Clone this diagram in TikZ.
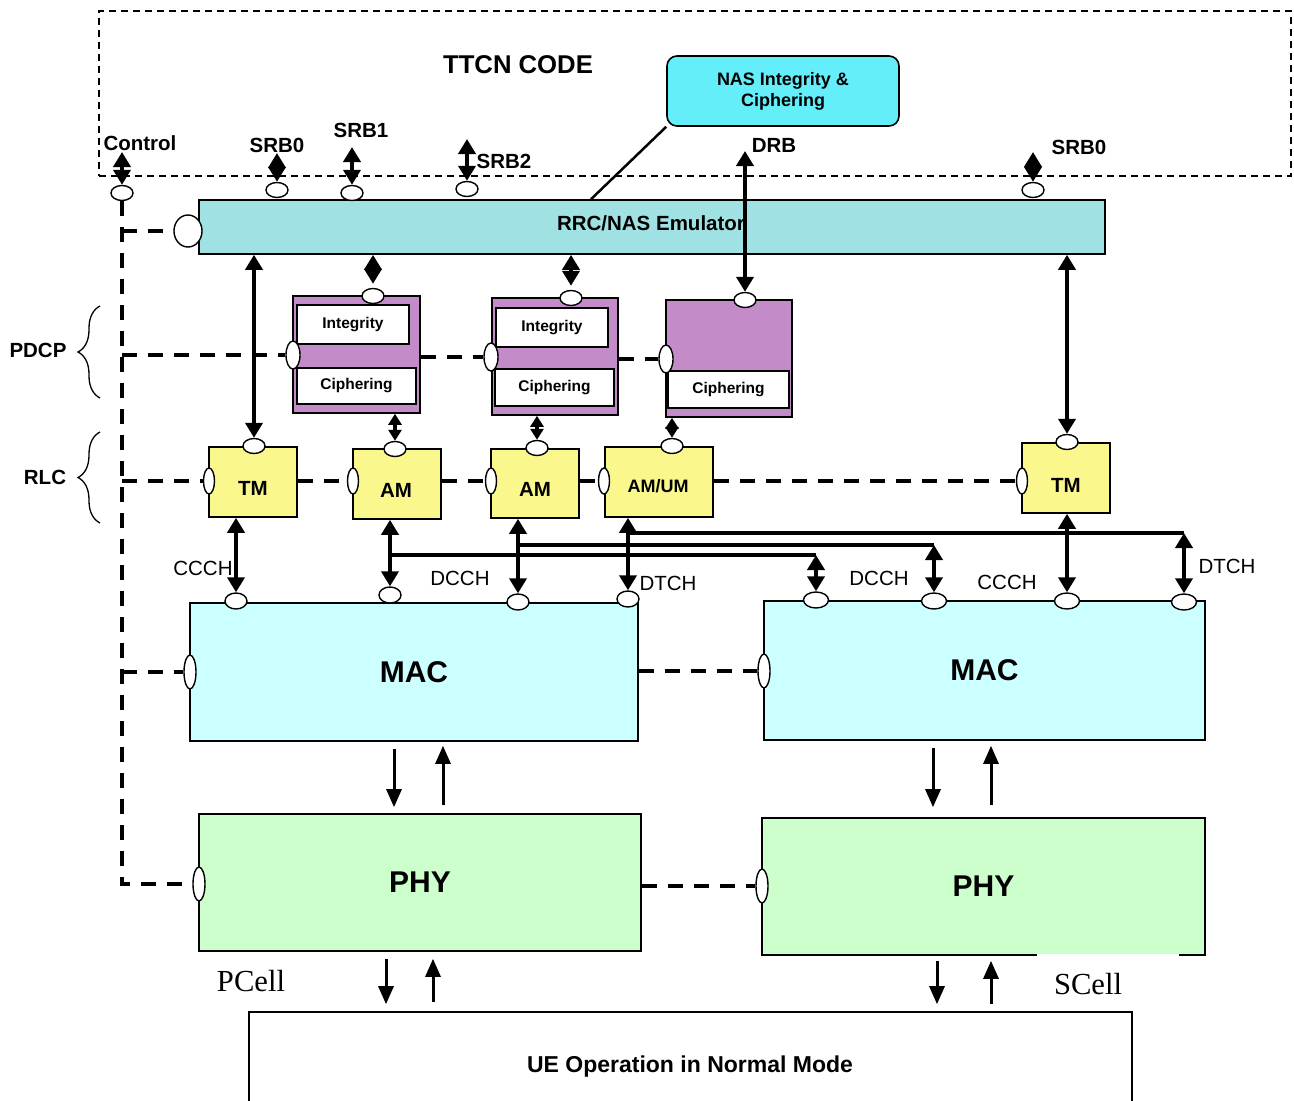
\documentclass[tikz,border=0pt]{standalone}
\usepackage{fontspec}
\setmainfont{Liberation Sans}
\newfontfamily\serifx{Liberation Serif}
\usetikzlibrary{arrows.meta,shapes.geometric,decorations.pathreplacing}
\newcommand\myfs[1]{\fontsize{#1}{#1}\selectfont}
\definecolor{nascol}{RGB}{100,238,250}
\definecolor{rrccol}{RGB}{160,225,228}
\definecolor{pdcpcol}{RGB}{195,140,200}
\definecolor{rlccol}{RGB}{250,248,140}
\definecolor{maccol}{RGB}{204,255,255}
\definecolor{phycol}{RGB}{204,255,204}
\begin{document}
\begin{tikzpicture}[x=1pt,y=-1pt,
 every node/.style={inner sep=0pt},
 box/.style={draw,line width=1.6pt},
 port/.style={ellipse,draw,fill=white,line width=1.4pt,minimum width=22pt,minimum height=15pt},
 vport/.style={ellipse,draw,fill=white,line width=1.4pt,minimum width=12pt,minimum height=28pt},
 lbl/.style={font=\myfs{20.5}\bfseries},
 chl/.style={font=\myfs{20.5}},
 dbl/.style={line width=3.8pt,{Triangle[width=17pt,length=15pt]}-{Triangle[width=17pt,length=15pt]}},
 dmd/.style={line width=3.8pt,{Triangle[width=17pt,length=15pt]}-{Triangle[width=17pt,length=15pt]}},
 sdbl/.style={line width=3.5pt,{Triangle[width=13pt,length=11pt]}-{Triangle[width=13pt,length=11pt]}},
 sarr/.style={line width=3pt,-{Triangle[width=15pt,length=18pt]}},
 busl/.style={line width=3.8pt,dash pattern=on 15pt off 11pt},
 wire/.style={line width=3.5pt},
 brc/.style={line width=1.3pt,decorate,decoration={brace,amplitude=22pt}}
]
\useasboundingbox (0,0) rectangle (1294,1101);
\fill[white] (0,0) rectangle (1294,1101);
\clip (0,0) rectangle (1294,1101);

% TTCN area
\node[draw,line width=1.2pt,dash pattern=on 7pt off 5pt,minimum width=1192pt,minimum height=165pt] (ttcn) at (695,93.5) {};
\node[font=\myfs{25.7}\bfseries] (ttcnlbl) at (518,65) {TTCN CODE};
\node[box,fill=nascol,rounded corners=10pt,minimum width=232pt,minimum height=70pt,align=center,font=\fontsize{18}{21}\selectfont\bfseries] (nas) at (783,91) {NAS Integrity \&\\Ciphering};

% RRC
\node[box,fill=rrccol,minimum width=906pt,minimum height=54pt] (rrc) at (652,227) {};
\node[lbl] (lrrc) at (651,223) {RRC/NAS Emulator};
\node[port,minimum width=28pt,minimum height=32pt] (prrc) at (188,231) {};
\node[port] (pctrl) at (122,193) {};
\node[port] (psrb0) at (277,190) {};
\node[port] (psrb1) at (352,193) {};
\node[port] (psrb2) at (467,189) {};
\node[port] (psrb0r) at (1033,190) {};

\node[lbl] (lctrl) at (140,143) {Control};
\node[lbl] (lsrb0) at (277,145) {SRB0};
\node[lbl] (lsrb1) at (361,130) {SRB1};
\node[lbl] (lsrb2) at (504,161) {SRB2};
\node[lbl] (ldrb) at (774,145) {DRB};
\node[lbl] (lsrb0r) at (1079,147) {SRB0};

\coordinate (tctrl) at (122,152);
\coordinate (tsrb0) at (277,153);
\coordinate (tsrb1) at (352,147);
\coordinate (tsrb2) at (467,139);
\coordinate (tsrb0r) at (1033,152);
\coordinate (tdrb) at (745,151);
\coordinate (xnas) at (591,0);

% PDCP
\node[box,fill=pdcpcol,minimum width=127pt,minimum height=117pt] (pd1) at (356.5,354.5) {};
\node[box,fill=white,minimum width=112pt,minimum height=39pt,font=\myfs{15.5}\bfseries] (int1) at (353,324.5) {Integrity};
\node[box,fill=white,minimum width=119pt,minimum height=36pt,font=\myfs{15.5}\bfseries] (ciph1) at (356.5,386) {Ciphering};
\node[port] (pd1t) at (373,296) {};
\node[vport,minimum width=14pt,minimum height=28pt] (pd1l) at (293,355) {};

\node[box,fill=pdcpcol,minimum width=126pt,minimum height=117pt] (pd2) at (555,356.5) {};
\node[box,fill=white,minimum width=112pt,minimum height=39pt,font=\myfs{15.5}\bfseries] (int2) at (552,327.5) {Integrity};
\node[box,fill=white,minimum width=119pt,minimum height=37pt,font=\myfs{15.5}\bfseries] (ciph2) at (554.5,387.5) {Ciphering};
\node[port] (pd2t) at (571,298) {};
\node[vport,minimum width=14pt,minimum height=28pt] (pd2l) at (491,357) {};

\node[box,fill=pdcpcol,minimum width=126pt,minimum height=117pt] (pd3) at (729,358.5) {};
\node[box,fill=white,minimum width=121pt,minimum height=37pt,font=\myfs{15.5}\bfseries] (ciph3) at (728.5,389.5) {Ciphering};
\node[port] (pd3t) at (745,300) {};
\node[vport,minimum width=14pt,minimum height=28pt] (pd3l) at (666,359) {};

% RLC
\node[box,fill=rlccol,minimum width=88pt,minimum height=70pt] (tm1) at (253,482) {};
\node[box,fill=rlccol,minimum width=88pt,minimum height=70pt] (am1) at (397,484) {};
\node[box,fill=rlccol,minimum width=88pt,minimum height=69pt] (am2) at (535,483.5) {};
\node[box,fill=rlccol,minimum width=108pt,minimum height=70pt] (amum) at (659,482) {};
\node[box,fill=rlccol,minimum width=88pt,minimum height=70pt] (tm2) at (1066,478) {};
\node[lbl] (ltm1) at (253,488) {TM};
\node[lbl] (lam1) at (396,490) {AM};
\node[lbl] (lam2) at (535,489) {AM};
\node[font=\myfs{18}\bfseries] (lamum) at (658,486) {AM/UM};
\node[lbl] (ltm2) at (1066,485) {TM};
\node[port] (tm1t) at (254,446) {};
\node[port] (am1t) at (395,449) {};
\node[port] (am2t) at (537,448) {};
\node[port] (amumt) at (672,446) {};
\node[port] (tm2t) at (1067,442) {};
\node[vport,minimum width=11pt,minimum height=26pt] (tm1l) at (209,481) {};
\node[vport,minimum width=11pt,minimum height=26pt] (am1l) at (353,481) {};
\node[vport,minimum width=11pt,minimum height=26pt] (am2l) at (491,481) {};
\node[vport,minimum width=11pt,minimum height=26pt] (amuml) at (604,481) {};
\node[vport,minimum width=11pt,minimum height=26pt] (tm2l) at (1022,481) {};

% MAC
\node[box,fill=maccol,minimum width=448pt,minimum height=138pt,font=\myfs{30}\bfseries] (mac1) at (414,672) {MAC};
\node[box,fill=maccol,minimum width=441pt,minimum height=139pt,font=\myfs{30}\bfseries] (mac2) at (984.5,670.5) {MAC};
\node[port,minimum height=16pt] (m1a) at (236,601) {};
\node[port,minimum height=16pt] (m1b) at (390,595) {};
\node[port,minimum height=16pt] (m1c) at (518,602) {};
\node[port,minimum height=16pt] (m1d) at (628,599) {};
\node[port,minimum height=16pt,minimum width=25pt] (m2a) at (816,600) {};
\node[port,minimum height=16pt,minimum width=25pt] (m2b) at (934,601) {};
\node[port,minimum height=16pt,minimum width=25pt] (m2c) at (1067,601) {};
\node[port,minimum height=16pt,minimum width=25pt] (m2d) at (1184,602) {};
\node[vport,minimum width=12pt,minimum height=34pt] (m1l) at (190,672) {};
\node[vport,minimum width=12pt,minimum height=34pt] (m2l) at (764,671) {};

\node[chl] (c1) at (203,568) {CCCH};
\node[chl] (c2) at (460,578) {DCCH};
\node[chl] (c3) at (668,583) {DTCH};
\node[chl] (c4) at (879,578) {DCCH};
\node[chl] (c5) at (1007,582) {CCCH};
\node[chl] (c6) at (1227,566) {DTCH};

% PHY
\node[box,fill=phycol,minimum width=442pt,minimum height=137pt,font=\myfs{30}\bfseries] (phy1) at (420,882.5) {PHY};
\node[box,fill=phycol,minimum width=443pt,minimum height=137pt,font=\myfs{30}\bfseries] (phy2) at (983.5,886.5) {PHY};
\node[vport,minimum width=12pt,minimum height=34pt] (pphy1) at (199,884) {};
\node[vport,minimum width=12pt,minimum height=34pt] (pphy2) at (762,886) {};
\draw[white,line width=2pt] (1037,955) -- (1179,955);

% UE
\node[box,minimum width=883pt,minimum height=180pt] (ue) at (690.5,1102) {};
\node[font=\myfs{23}\bfseries] (uelbl) at (690,1067) {UE Operation in Normal Mode};
\node[font=\myfs{30.6}\serifx] (pcell) at (251,981) {PCell};
\node[font=\myfs{30.6}\serifx] (scell) at (1088,984) {SCell};

% braces
\draw[brc] (100,398) -- (100,306);
\draw[brc] (100,523) -- (100,432);
\node[lbl] (lpdcp) at (38,350) {PDCP};
\node[lbl] (lrlc) at (45,477) {RLC};

% control bus
\coordinate (bus) at (122,0);
\draw[busl] (pctrl.south) -- (bus |- pphy1) -- (pphy1.west);
\draw[busl] (bus |- prrc) -- (prrc.west);
\draw[busl] (bus |- pd1l) -- (pd1l.west);
\draw[busl] (pd1.east |- pd2l) -- (pd2l.west);
\draw[busl] (pd2.east |- pd3l) -- (pd3l.west);
\draw[busl] (bus |- tm1l) -- (tm1l.west);
\draw[busl] (tm1.east |- am1l) -- (am1l.west);
\draw[busl] (am1.east |- am2l) -- (am2l.west);
\draw[busl] (am2.east |- amuml) -- (amuml.west);
\draw[busl] (amum.east |- tm2l) -- (tm2l.west);
\draw[busl] (bus |- m1l) -- (m1l.west);
\draw[busl] (mac1.east |- m2l) -- (m2l.west);
\draw[busl] (phy1.east |- pphy2) -- (pphy2.west);

% top arrows
\draw[dbl] (tctrl) -- (pctrl.north);
\draw[dbl] (tsrb0) -- (psrb0.north);
\draw[dbl] (tsrb1) -- (psrb1.north);
\draw[dbl] (tsrb2) -- (psrb2.north);
\draw[dbl] (tsrb0r) -- (psrb0r.north);
\draw[dbl] (tdrb) -- (pd3t.north);
\draw[line width=2.5pt] (nas.south west) -- (rrc.north -| xnas);

% RRC to PDCP / RLC
\draw[dmd,shorten >=4pt] (rrc.south -| pd1t) -- (pd1t.north);
\draw[dmd,shorten >=4pt] (rrc.south -| pd2t) -- (pd2t.north);
\draw[dbl] (rrc.south -| tm1t) -- (tm1t.north);
\draw[dbl] (rrc.south -| tm2t) -- (tm2t.north);

% PDCP to RLC
\draw[sdbl] (pd1.south -| am1t) -- (am1t.north);
\draw[sdbl] (pd2.south -| am2t) -- (am2t.north);
\draw[sdbl] (pd3.south -| amumt) -- (amumt.north);

% RLC to MAC
\draw[dbl] (tm1.south -| m1a) -- (m1a.north);
\draw[dbl] (am1.south -| m1b) -- (m1b.north);
\draw[dbl] (am2.south -| m1c) -- (m1c.north);
\draw[dbl] (amum.south -| m1d) -- (m1d.north);
\draw[dbl] (tm2.south -| m2c) -- (m2c.north);
\coordinate (br1) at (390,555);
\coordinate (br2) at (518,545);
\coordinate (br3) at (628,533);
\draw[wire] (br1) -- (br1 -| m2a);
\draw[wire] (br2) -- (br2 -| m2b);
\draw[wire] (br3) -- (br3 -| m2d);
\draw[dbl] (br1 -| m2a) -- (m2a.north);
\draw[dbl] (br2 -| m2b) -- (m2b.north);
\draw[dbl] (br3 -| m2d) -- (m2d.north);

% MAC <-> PHY
\coordinate (xa) at (394,0);
\coordinate (xb) at (443,0);
\coordinate (xc) at (933,0);
\coordinate (xd) at (991,0);
\draw[sarr,shorten <=7pt,shorten >=6pt] (mac1.south -| xa) -- (phy1.north -| xa);
\draw[sarr,shorten <=8pt,shorten >=4pt] (phy1.north -| xb) -- (mac1.south -| xb);
\draw[sarr,shorten <=7pt,shorten >=10pt] (mac2.south -| xc) -- (phy2.north -| xc);
\draw[sarr,shorten <=12pt,shorten >=5pt] (phy2.north -| xd) -- (mac2.south -| xd);

% PHY <-> UE
\coordinate (xe) at (386,0);
\coordinate (xf) at (433,0);
\coordinate (xg) at (937,0);
\coordinate (xh) at (991,0);
\draw[sarr,shorten <=7pt,shorten >=7pt] (phy1.south -| xe) -- (ue.north -| xe);
\draw[sarr,shorten <=9pt,shorten >=7pt] (ue.north -| xf) -- (phy1.south -| xf);
\draw[sarr,shorten <=5pt,shorten >=7pt] (phy2.south -| xg) -- (ue.north -| xg);
\draw[sarr,shorten <=7pt,shorten >=5pt] (ue.north -| xh) -- (phy2.south -| xh);
\end{tikzpicture}
\end{document}
